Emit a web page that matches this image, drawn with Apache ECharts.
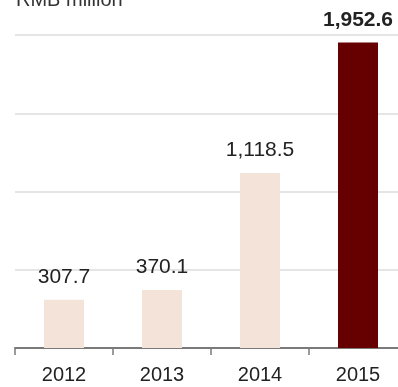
<!DOCTYPE html>
<html>
<head>
<meta charset="utf-8">
<script src="https://cdn.jsdelivr.net/npm/echarts@6/dist/echarts.min.js"></script>
<style>
  html, body { margin: 0; padding: 0; background: #fff; }
  #chart { width: 398px; height: 387px; }
</style>
</head>
<body>
<div id="chart"></div>
<script>
// Annual figures, RMB million
const years = ['2012', '2013', '2014', '2015'];
const values = [307.7, 370.1, 1118.5, 1952.6];
const unitLabel = 'RMB million';

const FONT = '"Liberation Sans", Arial, Helvetica, sans-serif';
const lightBar = '#f3e3d8';
const darkBar = '#660000';

const chart = echarts.init(document.getElementById('chart'), null, { renderer: 'canvas' });

const barData = values.map((v, i) => {
  const last = i === values.length - 1;
  return {
    value: v,
    itemStyle: { color: last ? darkBar : lightBar },
    label: last ? { fontWeight: 'bold', color: '#222' } : {}
  };
});

chart.setOption({
  animation: false,
  backgroundColor: '#fff',
  title: {
    text: unitLabel,
    left: 16,
    top: -10,
    padding: 0,
    textStyle: { fontFamily: FONT, fontSize: 20, fontWeight: 'normal', color: '#333' }
  },
  // the plot runs past the right edge so the last category is cut off
  grid: { left: 15, width: 392, top: 35, height: 313, containLabel: false, outerBoundsMode: 'none' },
  xAxis: {
    type: 'category',
    data: years,
    axisLine: { show: true, lineStyle: { color: '#7a7a7a', width: 2 } },
    axisTick: { show: true, length: 7, lineStyle: { color: '#7a7a7a', width: 1.5 } },
    axisLabel: { margin: 17, fontFamily: FONT, fontSize: 20, color: '#222' }
  },
  yAxis: {
    type: 'value',
    min: 0,
    max: 2000,
    interval: 500,
    axisLine: { show: false },
    axisTick: { show: false },
    axisLabel: { show: false },
    splitLine: { lineStyle: { color: '#dcdcdc', width: 1.5 } }
  },
  series: [{
    type: 'bar',
    data: barData,
    barWidth: 40,
    label: {
      show: true,
      position: 'top',
      distance: 12,
      fontFamily: FONT,
      fontSize: 21,
      color: '#222',
      formatter: p => p.value.toLocaleString('en-US', { minimumFractionDigits: 1, maximumFractionDigits: 1 })
    }
  }]
});
</script>
</body>
</html>
